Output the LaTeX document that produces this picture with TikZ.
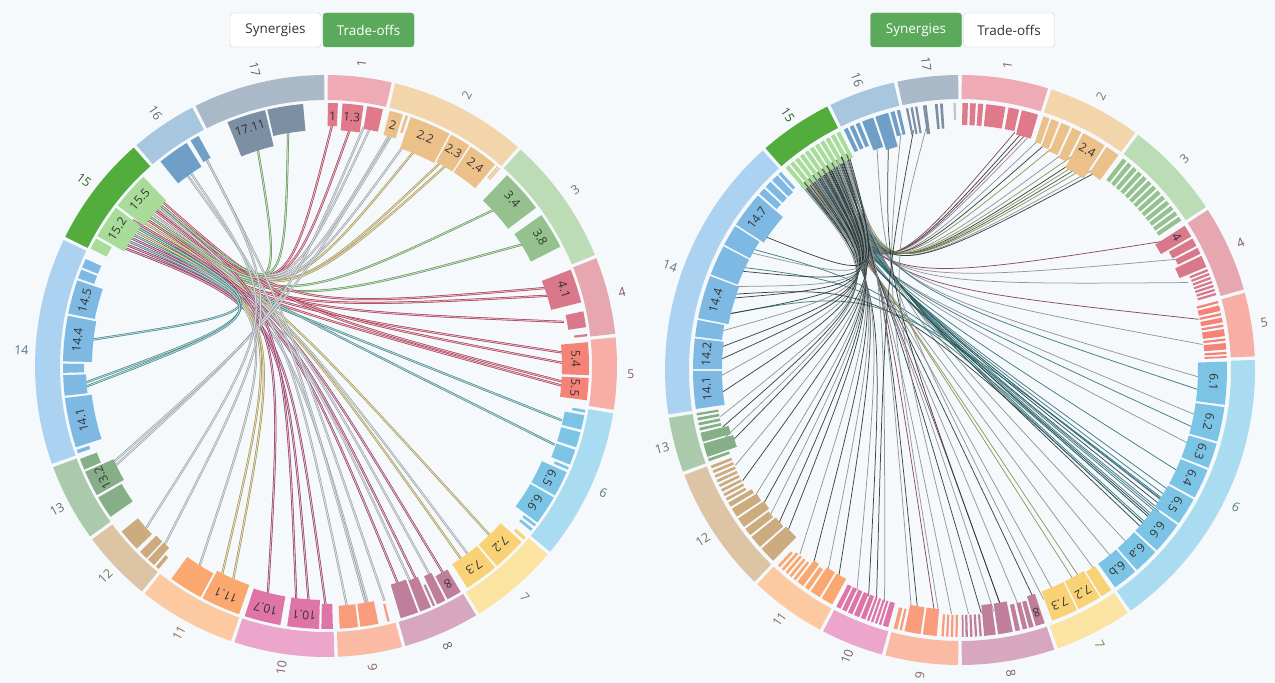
\documentclass[tikz,border=0pt]{standalone}
\usepackage{fontspec}
\setmainfont{Open Sans}
\definecolor{bg}{HTML}{F6F9FC}
\definecolor{btnb}{HTML}{C8CCD0}
\definecolor{btng}{HTML}{5BA95B}
\definecolor{txt}{HTML}{333333}
% ring colours
\definecolor{r1}{HTML}{EEAAB5}\definecolor{r2}{HTML}{F2D5AA}\definecolor{r3}{HTML}{BCDCB5}
\definecolor{r4}{HTML}{E6A7B0}\definecolor{r5}{HTML}{F7AEA6}\definecolor{r6}{HTML}{A9DCF0}
\definecolor{r7}{HTML}{FBE3A2}\definecolor{r8}{HTML}{D6A7BE}\definecolor{r9}{HTML}{FBBAA3}
\definecolor{r10}{HTML}{ECA6CB}\definecolor{r11}{HTML}{FCC9A0}\definecolor{r12}{HTML}{DCC4A5}
\definecolor{r13}{HTML}{ABC9AB}\definecolor{r14}{HTML}{ABD2F0}\definecolor{r15}{HTML}{52AD3D}
\definecolor{r16}{HTML}{A8C6DD}\definecolor{r17}{HTML}{AAB9C8}
% bar colours
\definecolor{b1}{HTML}{E07A8A}\definecolor{b2}{HTML}{ECC089}\definecolor{b3}{HTML}{94C18E}
\definecolor{b4}{HTML}{D9788A}\definecolor{b5}{HTML}{F58378}\definecolor{b6}{HTML}{7CC4E6}
\definecolor{b7}{HTML}{F9D275}\definecolor{b8}{HTML}{BF7F9B}\definecolor{b9}{HTML}{F99C7C}
\definecolor{b10}{HTML}{DF74A6}\definecolor{b11}{HTML}{FAA870}\definecolor{b12}{HTML}{CCAB7E}
\definecolor{b13}{HTML}{87AF87}\definecolor{b14}{HTML}{7EB9E4}\definecolor{b15}{HTML}{A8DC98}
\definecolor{b16}{HTML}{6F9FC6}\definecolor{b17}{HTML}{7D8FA2}
% chord colours
\definecolor{cr}{HTML}{A0203C}\definecolor{co}{HTML}{9A8A3A}\definecolor{cg}{HTML}{4F8A3F}
\definecolor{ct}{HTML}{2A7A7C}\definecolor{cy}{HTML}{8F979D}\definecolor{cm}{HTML}{8A1F50}
\definecolor{tl}{HTML}{2F6E74}\definecolor{dk}{HTML}{25352F}\definecolor{gr}{HTML}{858D93}
\definecolor{ol}{HTML}{8F8A50}\definecolor{mr}{HTML}{7B3B4B}\definecolor{gn}{HTML}{3A5A3A}
\newcommand\rseg[5]{\fill[#5] ({90-(#1)}:#4) arc[start angle={90-(#1)}, end angle={90-(#2)}, radius=#4] -- ({90-(#2)}:#3) arc[start angle={90-(#2)}, end angle={90-(#1)}, radius=#3] -- cycle;}
\newcommand\chd[5]{\draw[#5] ({90-(#1)}:#3) .. controls #4 and #4 .. ({90-(#2)}:#3);}
\tikzset{
  btn/.style={minimum width=91pt, minimum height=34pt, inner sep=0pt, rounded corners=3pt, font=\fontsize{13.5}{15}\selectfont},
  seglab/.style={font=\fontsize{12.5}{14}\selectfont, inner sep=0pt},
  barlab/.style={font=\fontsize{12}{13}\selectfont, inner sep=0pt, text=txt},
  lch/.style={line width=0.5pt, double distance=1.1pt},
  rch/.style={line width=0.75pt, opacity=0.9}
}
\begin{document}
\begin{tikzpicture}[x=1pt,y=1pt]
\fill[bg] (0,0) rectangle (1275,683);
\useasboundingbox (0,0) rectangle (1275,683);
% ---------- buttons ----------
\node[btn, fill=white, draw=btnb, text=txt] (lsyn) at (275.5,653) {Synergies};
\node[btn, fill=btng, draw=btng, text=white] (ltro) at (368.5,653) {Trade-offs};
\node[btn, fill=btng, draw=btng, text=white] (rsyn) at (916,653) {Synergies};
\node[btn, fill=white, draw=btnb, text=txt] (rtro) at (1009,653) {Trade-offs};
% ================= LEFT: trade-offs =================
\begin{scope}[shift={(326,317)}]
\foreach \a/\b/\c in {312/1.5/cr, 311/6/cr, 313.5/10.5/cy, 310/15.5/cy, 309/23/co, 308/30/co, 307/31.5/co, 306.5/20/cy,
 306/48/cg, 305/59/cg, 314/71/cr, 303/73/cr, 304/79.5/cr, 302/87/cr, 312.5/89.5/cr, 301/95/cr, 315/94/cr,
 300/103/ct, 306/109/ct, 310/136/co, 309/143/cy, 308/145/co, 307/150.5/cm, 311/153.5/cy, 305/157/cm, 304/158.5/cy, 303/161.5/cm,
 302/170/cy, 313/175/cy, 301/180/cm, 300/184/cm, 314/187/cm, 309/194/cm, 306/203/co, 305/206/co, 304/212/cy,
 343/310/cg, 351/314/cg, 324/170.5/cy, 330/166/cy, 276/304/ct, 266/306/ct, 265/302/ct, 244/9/cy, 245/16/cy, 228/325/cy, 222/330/cy}
  {\chd{\a}{\b}{242}{(-41,56)}{lch, draw=\c, double=\c!35!white}}
% bars
\foreach \a/\b/\r/\c in {0.4/2.6/240/b1, 3.6/8.2/236/b1, 9/12.5/240/b1,
 14/17/238/b2, 17.6/18.2/245/b2, 18.8/28/230/b2, 28.4/33/232/b2, 33.4/40/232/b2, 40.6/40.9/248/b2, 41.1/41.4/248/b2,
 43.5/53/228/b3, 55/63/230/b3,
 68.5/76/232/b4, 78/81.5/245/b4, 83/83.5/250/b4,
 84.8/92/236/b5, 92.6/97.5/236/b5,
 99.6/100.2/250/b6, 100.8/104/243/b6, 104.6/108/243/b6, 108.6/112/243/b6, 112.6/113.2/248/b6, 113.8/119.5/236/b6, 120/126.5/236/b6, 127/127.6/248/b6, 128.2/128.8/248/b6,
 130.6/131.3/250/b7, 132/139.5/235/b7, 140/147.5/235/b7,
 149.2/152.5/237/b8, 153/155/232/b8, 155.5/156/240/b8, 156.5/159/230/b8, 159.5/163.5/228/b8,
 166/166.5/245/b9, 168.5/172.5/240/b9, 173/177/240/b9,
 178.5/181/238/b10, 181.5/188.5/234/b10, 190/198/234/b10,
 199.3/208/232/b11, 208.5/216/236/b11,
 219.5/220.3/248/b12, 220.8/222.6/240/b12, 223/225/240/b12, 226/231/242/b12,
 235/240/236/b13, 240.6/246.3/232/b13, 246.8/249.3/245/b13,
 250.6/251.4/250/b14, 252/263/236/b14, 263.5/268/240/b14, 268.5/270.5/242/b14, 271/281/234/b14, 281.5/289/236/b14, 289.5/291.5/246/b14, 292/294/246/b14,
 296.5/299/245/b15, 299.6/307/232/b15, 307.6/316/230/b15,
 321/328/235/b16, 329/331/238/b16,
 338/346.6/226/b17, 347.1/355/236/b17}
  {\rseg{\a}{\b}{\r}{263}{\c}}
\foreach \t/\n [count=\i] in {1.5/1, 5.9/1.3, 15.5/2, 23.4/2.2, 30.7/2.3, 36.7/2.4, 48.2/3.4, 59/3.8, 72.2/4.1, 88.4/5.4, 95/5.5,
 116.6/6.5, 123.2/6.6, 135.7/7.2, 143.7/7.3, 150.8/8, 185/10.1, 194/10.7, 203.6/11.1, 243.4/13.2, 257.5/14.1, 276/14.4, 285.2/14.5,
 303.3/15.2, 311.8/15.5, 342.3/17.11}
  {\node[barlab, rotate=-\t] (lb\i) at ({90-\t}:250) {\n};}
% ring
\foreach \a/\b/\c in {0/13.4/r1, 13.4/41.6/r2, 41.6/67.9/r3, 67.9/84/r4, 84/99/r5, 99/130/r6, 130/148.6/r7, 148.6/164.5/r8,
 164.5/178/r9, 178/198.7/r10, 198.7/218.9/r11, 218.9/233.8/r12, 233.8/250/r13, 250/296/r14, 296/319/r15, 319/333/r16, 333/360/r17}
  {\rseg{\a+0.35}{\b-0.35}{266}{291}{\c}}
\foreach \t/\ro/\n/\c in {6.7/83.3/1/r1, 27.5/62.5/2/r2, 54.8/35.2/3/r3, 76/14/4/r4, 91.5/-1.5/5/r5, 114.5/-24.5/6/r6,
 139.3/-49.3/7/r7, 156.5/-66.5/8/r8, 171.2/-81.2/9/r9, 188.4/81.6/10/r10, 208.8/61.2/11/r11, 226.4/43.6/12/r12,
 241.9/28.1/13/r13, 273/-3/14/r14, 307.5/-37.5/15/r15, 326/-56/16/r16, 346.5/-76.5/17/r17}
  {\node[seglab, text=\c!55!black, rotate=\ro] (ls\n) at ({90-\t}:305) {\n};}
\end{scope}
% ================= RIGHT: synergies =================
\begin{scope}[shift={(960,313)}]
\foreach \a/\b/\c in {321/13/mr, 322/14.5/dk, 323/15.5/mr, 324/16.5/gr,
 320/19/gr, 325/21/dk, 326/23/ol, 327/26/gr, 328/28/ol, 329/29.5/dk, 330/30.5/ol, 331/31.5/gn, 332/32.5/ol, 326.5/34/gr, 327.5/35/dk,
 322.5/58/mr, 323.5/63/gr, 324.5/69/gr, 325.5/78/mr, 328.5/84/gr,
 330/92/gr, 331/95/tl, 320.5/101/gr, 321.5/104/tl, 322/108/gr, 323/115/tl, 324/120/tl, 325/121.5/tl, 326/123/tl, 327/124/dk,
 328/127/tl, 329/128/tl, 330/129.5/tl, 331/131/dk, 332/136/gr, 332.5/141/gr, 300/125/tl, 295/128/tl, 288/130/dk, 283/122.5/tl,
 320/126/tl, 321/127.5/dk, 322.8/130/tl, 324.8/122.8/tl, 326.8/125.5/tl,
 319.5/146/gr, 320.5/150/ol, 321.5/151.5/ol, 322.5/157/gr,
 323.5/162/dk, 324.5/166/gr, 325.5/170/mr, 326.5/172/gr, 327.5/175/dk,
 328.5/182/gr, 329.5/186/mr, 330.5/190/dk, 331.5/191.5/gr,
 332.5/198/gr, 319.8/202/dk, 320.8/205/gr,
 321.8/210/dk, 322.8/213/gr, 323.8/217/dk, 324.8/221/gr,
 325.8/226/dk, 326.8/229/dk, 327.8/232/gr, 328.8/235/dk, 329.8/238/gr, 330.8/243/dk, 331.8/247/gr,
 332.8/252/dk, 319.3/254/gr, 320.3/256.5/dk, 321.3/259/gr,
 322.3/264/dk, 323.3/268/gr, 324.3/272/dk, 325.3/275/dk, 326.3/279/gr, 327.3/283/dk, 328.3/287/dk, 329.3/290/gr, 330.3/294/dk, 331.3/299/gr, 332.3/304/dk,
 340/160/gr, 343/170/dk, 346/185/gr, 349/200/dk, 352/178/gr}
  {\chd{\a}{\b}{244}{(-75,85)}{rch, draw=\c}}
% bars
\foreach \a/\b/\r/\c in {0.5/1.7/245/b1, 2.2/3.4/245/b1, 3.9/5/245/b1, 5.6/9.8/245/b1, 10.5/12.8/245/b1, 13.4/17/242/b1,
 18.2/19.6/240/b2, 20/21.8/238/b2, 22.3/24.4/236/b2, 24.9/27/234/b2, 27.5/32.8/228/b2, 33.3/36.4/236/b2,
 57.3/60/232/b4, 60.5/62.3/240/b4, 62.8/64.2/242/b4, 64.7/67.3/238/b4,
 75/75.5/245/b5, 76/77.2/245/b5, 77.7/78.2/245/b5, 78.7/79.7/245/b5, 80.2/80.7/245/b5, 81.2/82.7/245/b5, 83.2/83.7/245/b5, 84.2/85.6/245/b5, 86.1/86.6/245/b5, 87/87.4/245/b5,
 88.2/97.5/238/b6, 98/105.5/238/b6, 106/111.5/238/b6, 112/118.5/238/b6, 119/125/238/b6, 125.5/132.5/238/b6, 133/138.5/238/b6, 139/144.5/238/b6,
 145.5/148/238/b7, 148.4/153.6/236/b7, 154/159.8/236/b7,
 161.5/163.5/236/b8, 164/165/240/b8, 165.4/166.4/240/b8, 167/168/240/b8, 168.6/171.8/236/b8, 172.3/174.8/236/b8, 175.3/175.8/245/b8, 176.3/176.8/245/b8, 177.3/177.8/245/b8, 178.3/178.8/245/b8, 179.2/179.6/245/b8,
 180.5/181/245/b9, 181.5/182/245/b9, 182.5/183/245/b9, 183.5/184/245/b9, 185/188/240/b9, 188.5/192/240/b9, 192.6/193.1/245/b9, 193.6/194.4/245/b9,
 195.6/196.8/242/b10, 197.2/197.7/242/b10, 198.1/198.6/242/b10, 199/199.5/242/b10, 199.9/200.4/242/b10, 200.8/201.8/242/b10, 202.2/203.4/242/b10, 203.8/204.8/242/b10, 205.2/206.2/242/b10, 206.6/207.6/242/b10,
 208.6/211.2/238/b11, 211.7/214/238/b11, 214.5/215.5/242/b11, 216/217.5/240/b11, 218/218.6/245/b11, 219.1/219.7/245/b11, 220.2/220.8/245/b11, 221.3/221.9/245/b11, 222.4/223/248/b11,
 224.4/228/234/b12, 228.5/231.3/236/b12, 231.8/233.5/238/b12, 234/236.2/236/b12, 236.7/238.7/238/b12, 239.2/240.2/240/b12, 240.7/241.3/245/b12, 241.8/242.4/245/b12, 242.9/243.5/245/b12, 244/244.6/245/b12, 245.1/245.7/245/b12, 246.2/246.8/245/b12, 247.3/247.9/245/b12, 248.4/249/245/b12,
 250/250.6/245/b13, 251/254/236/b13, 254.4/256.4/238/b13, 256.9/257.5/245/b13, 258/258.6/245/b13, 259.1/259.7/245/b13, 260.2/260.7/245/b13,
 261.6/269.8/238/b14, 270.2/276.8/238/b14, 277.2/280.8/240/b14, 281.2/290.6/236/b14, 291/297.6/238/b14, 298/302.6/238/b14, 303/310.8/234/b14, 311.3/312.8/244/b14, 313.3/314.8/244/b14, 315.3/316.8/244/b14, 317.2/317.9/246/b14,
 334.2/335.1/242/b16, 335.6/336.5/242/b16, 337/337.9/242/b16, 338.5/341/236/b16, 341.5/344.4/232/b16, 344.9/345.8/242/b16, 346.3/347/242/b16,
 348.3/348.8/240/b17, 349.3/349.8/240/b17, 350.3/350.8/240/b17, 352/352.8/238/b17, 354.6/355.2/242/b17, 355.7/356.3/242/b17, 358.6/359.1/250/b17!50!white}
  {\rseg{\a}{\b}{\r}{267}{\c}}
\foreach \k in {0,...,12} {\rseg{37.6+1.45*\k}{38.55+1.45*\k}{240}{267}{b3}}
\foreach \k in {0,...,6} {\rseg{67.8+0.9*\k}{68.3+0.9*\k}{248}{267}{b4}}
\foreach \k in {0,...,10} {\rseg{319.2+1.32*\k}{320.1+1.32*\k}{238}{267}{b15}}
\foreach \t/\n [count=\i] in {30.1/2.4, 58.6/4, 92.8/6.1, 101.7/6.2, 108.7/6.3, 115.2/6.4, 122/6.5, 129/6.6, 135.7/6.a, 141.7/6.b,
 151/7.2, 156.9/7.3, 162.5/8, 265.7/14.1, 273.5/14.2, 285.9/14.4, 306.9/14.7}
  {\node[barlab, rotate=-\t] (rb\i) at ({90-\t}:254) {\n};}
% ring
\foreach \a/\b/\c in {0/17.7/r1, 17.7/36.8/r2, 36.8/56.8/r3, 56.8/74.5/r4, 74.5/87.7/r5, 87.7/145/r6, 145/161/r7, 161/180/r8,
 180/195/r9, 195/208/r10, 208/223.8/r11, 223.8/249.5/r12, 249.5/261/r13, 261/318.4/r14, 318.4/333.6/r15, 333.6/347.4/r16, 347.4/360/r17}
  {\rseg{\a+0.35}{\b-0.35}{271}{295}{\c}}
\foreach \t/\ro/\n/\c in {8.85/81.15/1/r1, 27.25/62.75/2/r2, 46.8/43.2/3/r3, 65.65/24.35/4/r4, 81.1/8.9/5/r5, 116.35/-26.35/6/r6,
 153/-63/7/r7, 170.5/-80.5/8/r8, 187.5/82.5/9/r9, 201.5/68.5/10/r10, 215.9/54.1/11/r11, 236.65/33.35/12/r12,
 255.25/14.75/13/r13, 289.7/-19.7/14/r14, 326/-56/15/r15, 340.5/-70.5/16/r16, 353.7/-83.7/17/r17}
  {\node[seglab, text=\c!55!black, rotate=\ro] (rs\n) at ({90-\t}:308) {\n};}
\end{scope}
\end{tikzpicture}
\end{document}
